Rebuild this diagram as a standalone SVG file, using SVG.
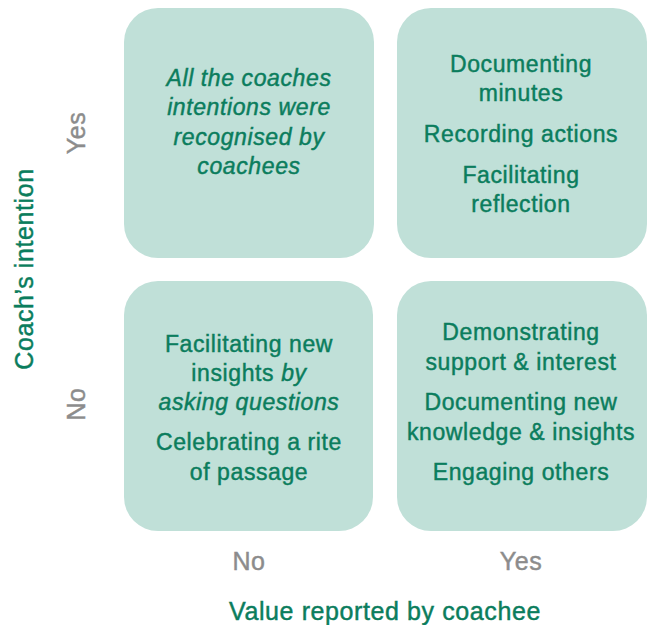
<svg xmlns="http://www.w3.org/2000/svg" width="652" height="625" viewBox="0 0 652 625">
  <style>
    .box { fill: #c0e0d8; }
    .t { font-family: "Liberation Sans", Arial, sans-serif; font-size: 23px; fill: #0b7d5d; stroke: #0b7d5d; stroke-width: 0.45; text-anchor: middle; letter-spacing: 0.6px; }
    .i { font-style: italic; }
    .ax { font-family: "Liberation Sans", Arial, sans-serif; font-size: 25px; fill: #8c8c8c; stroke: #8c8c8c; stroke-width: 0.45; text-anchor: middle; letter-spacing: 0.6px; }
    .title { font-size: 25px; }
  </style>
  <rect width="652" height="625" fill="#ffffff"/>

  <!-- top-left quadrant -->
  <g id="q-yes-no">
    <rect class="box" x="124" y="8" width="250" height="250" rx="34"/>
    <text class="t i" x="249" y="86">All the coaches</text>
    <text class="t i" x="249" y="115">intentions were</text>
    <text class="t i" x="249" y="145">recognised by</text>
    <text class="t i" x="249" y="174">coachees</text>
  </g>

  <!-- top-right quadrant -->
  <g id="q-yes-yes">
    <rect class="box" x="397" y="8" width="250" height="250" rx="34"/>
    <text class="t" x="521" y="72">Documenting</text>
    <text class="t" x="521" y="101">minutes</text>
    <text class="t" x="521" y="142">Recording actions</text>
    <text class="t" x="521" y="183">Facilitating</text>
    <text class="t" x="521" y="212">reflection</text>
  </g>

  <!-- bottom-left quadrant -->
  <g id="q-no-no">
    <rect class="box" x="124" y="281" width="249" height="250" rx="34"/>
    <text class="t" x="249" y="352">Facilitating new</text>
    <text class="t" x="249" y="381">insights <tspan class="i">by</tspan></text>
    <text class="t i" x="249" y="410">asking questions</text>
    <text class="t" x="249" y="450">Celebrating a rite</text>
    <text class="t" x="249" y="480">of passage</text>
  </g>

  <!-- bottom-right quadrant -->
  <g id="q-no-yes">
    <rect class="box" x="397" y="281" width="250" height="250" rx="34"/>
    <text class="t" x="521" y="340">Demonstrating</text>
    <text class="t" x="521" y="370">support &amp; interest</text>
    <text class="t" x="521" y="410">Documenting new</text>
    <text class="t" x="521" y="440">knowledge &amp; insights</text>
    <text class="t" x="521" y="480">Engaging others</text>
  </g>

  <!-- axes -->
  <g id="axes">
    <text class="ax" x="249" y="570">No</text>
    <text class="ax" x="521" y="570">Yes</text>
    <text class="t title" x="385" y="620">Value reported by coachee</text>
    <text class="ax" transform="translate(85,133) rotate(-90)">Yes</text>
    <text class="ax" transform="translate(85,404) rotate(-90)">No</text>
    <text class="t title" transform="translate(33,269) rotate(-90)">Coach’s intention</text>
  </g>
</svg>
